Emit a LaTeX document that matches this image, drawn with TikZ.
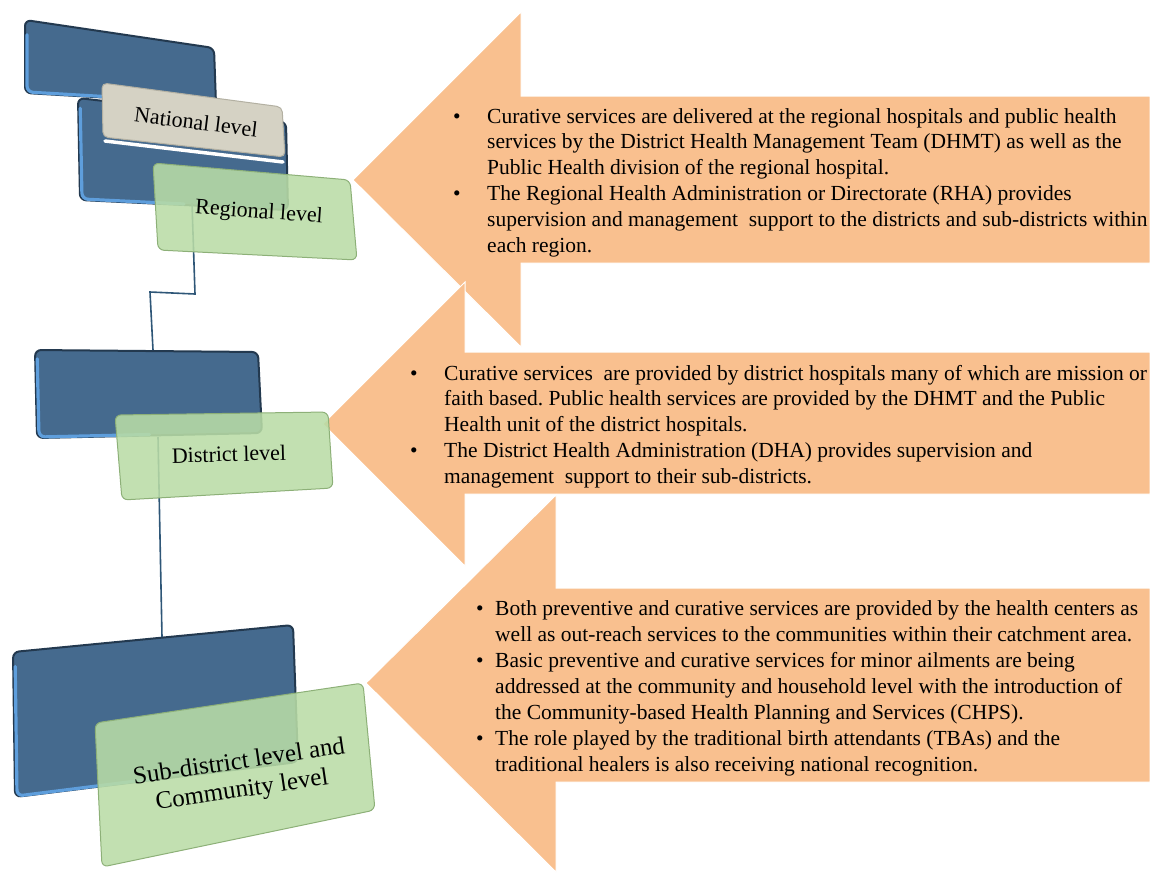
\documentclass[tikz,border=0pt]{standalone}
\usepackage{fontspec}
\setmainfont{Liberation Serif}
\usetikzlibrary{calc}
\definecolor{arrowfill}{HTML}{F9C08F}
\definecolor{bluefill}{HTML}{456A8E}
\definecolor{bluedark}{HTML}{23394F}
\definecolor{bluelight}{HTML}{5E9EDC}
\definecolor{greenfill}{HTML}{B9DCA6}
\definecolor{greenedge}{HTML}{8DB078}
\definecolor{natfill}{HTML}{D5D2C4}
\definecolor{natedge}{HTML}{B3B0A2}
\definecolor{linkblue}{HTML}{2E5677}
\begin{document}
\frenchspacing
\begin{tikzpicture}[x=1pt,y=-1pt,
  arrowshape/.style={fill=arrowfill, draw=white, line width=1pt},
  bluebox/.style={fill=bluefill, draw=bluedark, line width=2pt, rounded corners=6pt},
  bluebevel/.style={draw=bluelight, line width=3.2pt, rounded corners=6pt, line cap=round},
  greenbox/.style={fill=greenfill, fill opacity=0.88, draw=greenedge, line width=1pt, rounded corners=6pt},
  natbox/.style={fill=natfill, draw=natedge, line width=1pt, rounded corners=5pt},
  lvl/.style={font=\fontsize{22}{26}\selectfont, align=center, inner sep=0pt},
  sublvl/.style={font=\fontsize{25}{30}\selectfont, inner sep=0pt, anchor=base},
  txt/.style={font=\fontsize{21.5}{25.8}\selectfont, inner sep=0pt, anchor=base west},
  link/.style={draw=linkblue, line width=1.6pt}]
\useasboundingbox (0,0) rectangle (1150,873);

% ---------- arrows ----------
\path[arrowshape] (353,180) -- (521,12) -- (521,96) -- (1150,96) -- (1150,263) -- (521,263) -- (521,347) -- cycle;
\path[arrowshape] (323,424) -- (465,282) -- (465,352) -- (1150,352) -- (1150,494) -- (465,494) -- (465,566) -- cycle;
\path[arrowshape] (366,683) -- (556,495) -- (556,588) -- (1150,588) -- (1150,782) -- (556,782) -- (556,872) -- cycle;

% ---------- corner coordinates ----------
\coordinate (b1a) at (25,20);  \coordinate (b1b) at (214,48);  \coordinate (b1c) at (216,104); \coordinate (b1d) at (25,93);
\coordinate (b2a) at (78,98);  \coordinate (b2b) at (286,122); \coordinate (b2c) at (288,210); \coordinate (b2d) at (80,200);
\coordinate (na) at (102,83);  \coordinate (nb) at (282,107);  \coordinate (nc) at (285,157);  \coordinate (nd) at (103,137);
\coordinate (ra) at (153,163); \coordinate (rb) at (350,180);  \coordinate (rc) at (357,260);  \coordinate (rd) at (158,250);
\coordinate (b3a) at (35,350); \coordinate (b3b) at (258,352); \coordinate (b3c) at (262,433); \coordinate (b3d) at (37,438);
\coordinate (da) at (115,415); \coordinate (db) at (328,412);  \coordinate (dc) at (333,488);  \coordinate (dd) at (122,500);
\coordinate (b4a) at (13,652); \coordinate (b4b) at (293,625); \coordinate (b4c) at (298,762); \coordinate (b4d) at (15,797);
\coordinate (sa) at (95,723);  \coordinate (sb) at (363,683);  \coordinate (sc) at (375,810);  \coordinate (sd) at (102,867);

% ---------- blue back boxes ----------
\draw[bluebox] (b1a) -- (b1b) -- (b1c) -- (b1d) -- cycle;
\draw[bluebevel] ($(b1a)!0.2!(b1d)+(2,0)$) -- ($(b1d)+(2,-1)$) -- ($(b1d)!0.6!(b1c)+(0,-1)$);
\draw[bluebox] (b2a) -- (b2b) -- (b2c) -- (b2d) -- cycle;
\draw[bluebevel] ($(b2a)!0.1!(b2d)+(2,0)$) -- ($(b2d)+(2,-1)$) -- ($(b2d)!0.5!(b2c)+(0,-1)$);
\draw[bluebox] (b3a) -- (b3b) -- (b3c) -- (b3d) -- cycle;
\draw[bluebevel] ($(b3a)!0.1!(b3d)+(2,0)$) -- ($(b3d)+(2,-1)$) -- ($(b3d)!0.5!(b3c)+(0,-1)$);
\draw[bluebox] (b4a) -- (b4b) -- (b4c) -- (b4d) -- cycle;
\draw[bluebevel] ($(b4a)!0.1!(b4d)+(2,0)$) -- ($(b4d)+(2,-1)$) -- ($(b4d)!0.5!(b4c)+(0,-1)$);

% ---------- connectors ----------
\coordinate (l1s) at (192,203);
\coordinate (l1e) at (153,350);
\coordinate (l2s) at (158,437);
\coordinate (l2e) at (162,637);
\draw[link] (l1s) -- (195,294) -- (150,292) -- (l1e);
\draw[link] (l2s) -- (l2e);

% ---------- national box ----------
\draw[white, line width=3.5pt, line cap=round] ($(nd)+(2,4)$) -- ($(nc)+(-2,5)$);
\draw[natbox] (na) -- (nb) -- (nc) -- (nd) -- cycle;

% ---------- green boxes ----------
\draw[greenbox] (ra) -- (rb) -- (rc) -- (rd) -- cycle;
\draw[greenbox] (da) -- (db) -- (dc) -- (dd) -- cycle;
\draw[greenbox] (sa) -- (sb) -- (sc) -- (sd) -- cycle;

% ---------- level labels ----------
\node[lvl, rotate=-7] (national) at (196,122) {National level};
\node[lvl, rotate=-4] (regional) at (259,213) {Regional level};
\node[lvl, rotate=1.5] (district) at (229,454) {District level};
\node[sublvl, rotate=8.5] (subdistrict1) at (240,769) {Sub-district level and};
\node[sublvl, rotate=8.5] (subdistrict2) at (243,797) {Community level};

% ---------- arrow texts ----------
\node[txt] (p1b1) at (453,123) {•};
\node[txt] (p1b2) at (453,{123+3*25.8}) {•};
\foreach \t [count=\i] in {
  {Curative services are delivered at the regional hospitals and public health},
  {services by the District Health Management Team (DHMT) as well as the},
  {Public Health division of the regional hospital.},
  {The Regional Health Administration or Directorate (RHA) provides},
  {supervision and management\ \ support to the districts and sub-districts within},
  {each region.}}
  \node[txt] (p1l\i) at (487,{123+25.8*(\i-1)}) {\t};

\node[txt] (p2b1) at (410,380) {•};
\node[txt] (p2b2) at (410,{380+3*25.8}) {•};
\foreach \t [count=\i] in {
  {Curative services\ \ are provided by district hospitals many of which are mission or},
  {faith based. Public health services are provided by the DHMT and the Public},
  {Health unit of the district hospitals.},
  {The District Health Administration (DHA) provides supervision and},
  {management\ \ support to their sub-districts.}}
  \node[txt] (p2l\i) at (444,{380+25.8*(\i-1)}) {\t};

\node[txt] (p3b1) at (476,615) {•};
\node[txt] (p3b2) at (476,{615+2*26.1}) {•};
\node[txt] (p3b3) at (476,{615+5*26.1}) {•};
\foreach \t [count=\i] in {
  {Both preventive and curative services are provided by the health centers as},
  {well as out-reach services to the communities within their catchment area.},
  {Basic preventive and curative services for minor ailments are being},
  {addressed at the community and household level with the introduction of},
  {the Community-based Health Planning and Services (CHPS).},
  {The role played by the traditional birth attendants (TBAs) and the},
  {traditional healers is also receiving national recognition.}}
  \node[txt] (p3l\i) at (495,{615+26.1*(\i-1)}) {\t};
\end{tikzpicture}
\end{document}
